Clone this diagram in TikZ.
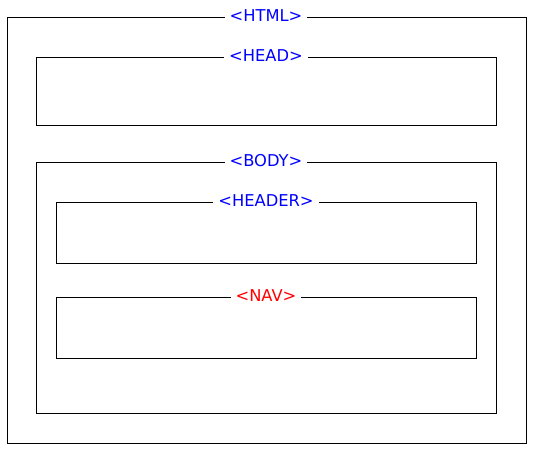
\documentclass[tikz,border=0pt]{standalone}
\usepackage{fontspec}
\setmainfont{DejaVu Sans}
\usepackage{tikz}
\definecolor{tagBlue}{RGB}{0,0,255}
\definecolor{tagRed}{RGB}{255,0,0}
\tikzset{tag/.style={fill=white, inner sep=5bp, font=\fontsize{16.3bp}{17bp}\selectfont, text=tagBlue}}
\begin{document}
\begin{tikzpicture}[x=1bp, y=-1bp, line width=0.9bp]
  \useasboundingbox (0,0) rectangle (533,449);
  \draw (7,17) rectangle (526,443);
  \draw (36,57) rectangle (496,125);
  \draw (36,162) rectangle (496,413);
  \draw (56,202) rectangle (476,263);
  \draw (56,297) rectangle (476,358);
  \node[tag] (html) at (266,16) {<HTML>};
  \node[tag] (head) at (266,56) {<HEAD>};
  \node[tag] (body) at (266,161) {<BODY>};
  \node[tag] (header) at (266,201) {<HEADER>};
  \node[tag, text=tagRed] (nav) at (266,296) {<NAV>};
\end{tikzpicture}
\end{document}
